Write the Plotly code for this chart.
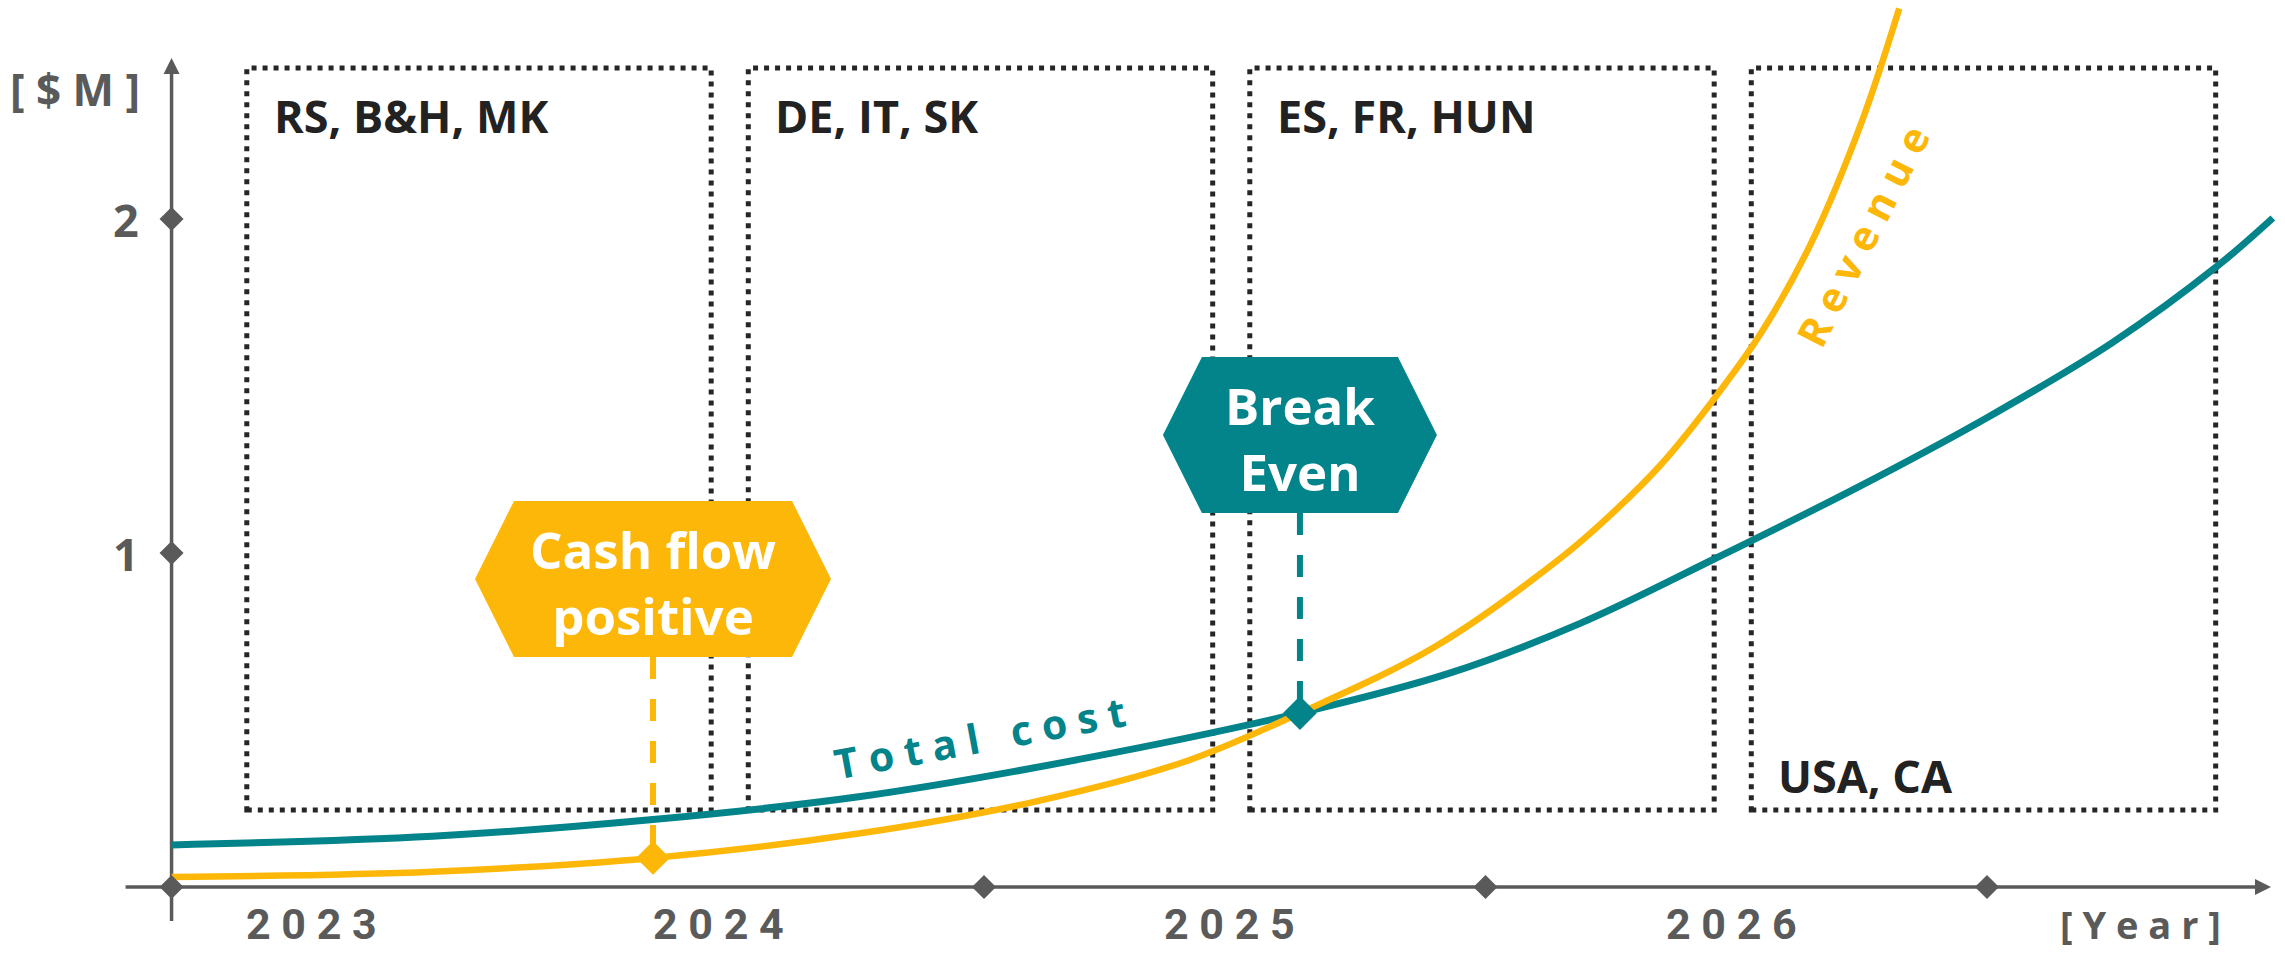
import plotly.graph_objects as go

# ---------------- data ----------------
cost_years = [2022.88, 2023.40, 2023.84, 2024.25, 2024.70, 2025.13, 2025.43,
              2025.69, 2025.96, 2026.24, 2026.50, 2026.75, 2026.96, 2027.07]
cost_values = [0.126, 0.152, 0.202, 0.270, 0.385, 0.521, 0.641,
               0.790, 0.985, 1.195, 1.405, 1.630, 1.860, 2.003]

revenue_years = [2022.88, 2023.40, 2023.84, 2024.25, 2024.60, 2024.90, 2025.13,
                 2025.40, 2025.65, 2025.75, 2025.85, 2025.95, 2026.05, 2026.15,
                 2026.25, 2026.325]
revenue_values = [0.030, 0.046, 0.087, 0.160, 0.255, 0.375, 0.521,
                  0.720, 0.985, 1.115, 1.265, 1.450, 1.660, 1.930,
                  2.290, 2.630]

milestone_labels = ["Cash flow<br>positive", "Break<br>Even"]
milestone_years = [2023.84, 2025.13]
milestone_values = [0.087, 0.521]

region_labels = ["RS, B&H, MK", "DE, IT, SK", "ES, FR, HUN", "USA, CA"]
region_years = [2023, 2024, 2025, 2026]

x_tick_labels = ["2023", "2024", "2025", "2026"]
x_tick_positions = [2023.16, 2023.97, 2024.99, 2025.99]
x_marker_positions = [2024.5, 2025.5, 2026.5]
y_tick_values = [1, 2]
y_tick_labels = ["1", "2"]
origin_year = 2022.88

series_labels = ["Total cost", "Revenue"]

# ---------------- styling / layout helpers ----------------
W, H = 2285, 953
PX_PER_YEAR = 501.5
PX_PER_M = 334.0
X_LEFT = 2022.5379          # data x at left edge
Y_ZERO_PX = 887             # pixel row of y = 0
X_RANGE = [X_LEFT, X_LEFT + W / PX_PER_YEAR]
Y_RANGE = [(Y_ZERO_PX - H) / PX_PER_M, Y_ZERO_PX / PX_PER_M]


def dx(p):
    return p / PX_PER_YEAR


def dy(p):
    return p / PX_PER_M


def px_x(p):
    return X_LEFT + p / PX_PER_YEAR


def px_y(p):
    return (Y_ZERO_PX - p) / PX_PER_M


TEAL = "#03838A"
YELLOW = "#FDB709"
GRAY = "#5A5A5A"
DOTS = "#262626"
DARK = "#222222"
FONT = "Open Sans"
NB = "\u00a0"


def spaced(s, gap=1, word_gap=3):
    out = []
    for i, ch in enumerate(s):
        if ch == " ":
            out.append(NB * word_gap)
        else:
            out.append(ch)
            if i < len(s) - 1 and s[i + 1] != " ":
                out.append(NB * gap)
    return "".join(out)


fig = go.Figure()
shapes = []
annotations = []

# ---- region boxes (dotted) ----
box_top = px_y(68)
box_bottom = px_y(810)
for i, (lab, yr) in enumerate(zip(region_labels, region_years)):
    x0 = yr + 0.03
    x1 = yr + 0.956
    shapes.append(dict(type="rect", xref="x", yref="y", x0=x0, x1=x1, y0=box_bottom, y1=box_top,
                       line=dict(color=DOTS, width=5, dash="5px,6px"), layer="below"))
    ly = px_y(115) if i < len(region_labels) - 1 else px_y(775)
    annotations.append(dict(x=x0 + dx(25), y=ly, xref="x", yref="y", text="<b>%s</b>" % lab,
                            showarrow=False, xanchor="left", yanchor="middle",
                            font=dict(family=FONT, size=45, color=DARK)))

# ---- axes ----
x_axis_start = origin_year - dx(46)
x_axis_tip = px_x(2271)
y_axis_bottom = px_y(921)
y_axis_tip = px_y(58)
shapes.append(dict(type="line", xref="x", yref="y", x0=x_axis_start, x1=x_axis_tip - dx(10),
                   y0=0, y1=0, line=dict(color=GRAY, width=3.5), layer="below"))
shapes.append(dict(type="line", xref="x", yref="y", x0=origin_year, x1=origin_year,
                   y0=y_axis_bottom, y1=y_axis_tip - dy(10), line=dict(color=GRAY, width=3.5), layer="below"))
# arrow heads
shapes.append(dict(type="path", xref="x", yref="y",
                   path="M %f,%f L %f,%f L %f,%f Z" % (x_axis_tip, 0, x_axis_tip - dx(16), dy(8),
                                                    x_axis_tip - dx(16), -dy(8)),
                   fillcolor=GRAY, line=dict(width=0), layer="below"))
shapes.append(dict(type="path", xref="x", yref="y",
                   path="M %f,%f L %f,%f L %f,%f Z" % (origin_year, y_axis_tip, origin_year - dx(8),
                                                    y_axis_tip - dy(16), origin_year + dx(8),
                                                    y_axis_tip - dy(16)),
                   fillcolor=GRAY, line=dict(width=0), layer="below"))

# ---- curves ----
fig.add_trace(go.Scatter(x=cost_years, y=cost_values, mode="lines", name=series_labels[0],
                         line=dict(color=TEAL, width=7, shape="spline", smoothing=1.0),
                         hoverinfo="skip"))
fig.add_trace(go.Scatter(x=revenue_years, y=revenue_values, mode="lines", name=series_labels[1],
                         line=dict(color=YELLOW, width=6.5, shape="spline", smoothing=1.0),
                         hoverinfo="skip"))

# ---- milestones ----
milestone_colors = [YELLOW, TEAL]
hex_half_w = [178, 137]
hex_center_px = [579, 435]
hex_half_h = 78
hex_inset = 39
for lab, mx, my, col, hw, cy in zip(milestone_labels, milestone_years, milestone_values,
                                    milestone_colors, hex_half_w, hex_center_px):
    yc = px_y(cy)
    yt = yc + dy(hex_half_h)
    yb = yc - dy(hex_half_h)
    xl = mx - dx(hw)
    xr = mx + dx(hw)
    path = "M %f,%f L %f,%f L %f,%f L %f,%f L %f,%f L %f,%f Z" % (
        xl, yc, xl + dx(hex_inset), yt, xr - dx(hex_inset), yt, xr, yc,
        xr - dx(hex_inset), yb, xl + dx(hex_inset), yb)
    shapes.append(dict(type="path", xref="x", yref="y", path=path, fillcolor=col,
                       line=dict(width=0), layer="above"))
    fig.add_trace(go.Scatter(x=[mx, mx], y=[yb, my], mode="lines",
                             line=dict(color=col, width=6, dash="22px,20px"), hoverinfo="skip"))
    annotations.append(dict(x=mx, y=yc + dy(-3), xref="x", yref="y", text="<b>%s</b>" % lab,
                            showarrow=False, xanchor="center", yanchor="middle",
                            font=dict(family=FONT, size=51, color="white")))

fig.add_trace(go.Scatter(x=milestone_years, y=milestone_values, mode="markers",
                         marker=dict(symbol="diamond", size=26, color=milestone_colors,
                                     line=dict(width=0)), hoverinfo="skip"))

# ---- axis diamonds ----
dia_x = [origin_year] + x_marker_positions + [origin_year] * len(y_tick_values)
dia_y = [0] * (1 + len(x_marker_positions)) + y_tick_values
fig.add_trace(go.Scatter(x=dia_x, y=dia_y, mode="markers",
                         marker=dict(symbol="diamond", size=18.5, color=GRAY, line=dict(width=0)),
                         hoverinfo="skip"))

# ---- axis labels ----
for lab, xp in zip(x_tick_labels, x_tick_positions):
    annotations.append(dict(x=xp, y=px_y(924), xref="x", yref="y", text="<b>%s</b>" % spaced(lab),
                            showarrow=False, xanchor="center", yanchor="middle",
                            font=dict(family="Roboto", size=43, color=GRAY)))
annotations.append(dict(x=px_x(2140), y=px_y(924), xref="x", yref="y",
                        text="<b>%s</b>" % spaced("[Year]"), showarrow=False,
                        xanchor="center", yanchor="middle",
                        font=dict(family=FONT, size=38, color=GRAY)))
for lab, v in zip(y_tick_labels, y_tick_values):
    annotations.append(dict(x=origin_year - dx(31), y=v, xref="x", yref="y", text="<b>%s</b>" % lab,
                            showarrow=False, xanchor="right", yanchor="middle",
                            font=dict(family=FONT, size=45, color=GRAY)))
annotations.append(dict(x=px_x(75), y=px_y(89), xref="x", yref="y",
                        text="<b>%s</b>" % spaced("[$M]"), showarrow=False,
                        xanchor="center", yanchor="middle",
                        font=dict(family=FONT, size=44, color=GRAY)))

# ---- series labels ----
annotations.append(dict(x=px_x(979), y=px_y(737), xref="x", yref="y",
                        text="<b>%s</b>" % spaced(series_labels[0]), showarrow=False,
                        textangle=-10.5, font=dict(family=FONT, size=41, color=TEAL)))
annotations.append(dict(x=px_x(1862), y=px_y(236), xref="x", yref="y",
                        text="<b>%s</b>" % spaced(series_labels[1]), showarrow=False,
                        textangle=-63, font=dict(family=FONT, size=41, color=YELLOW)))

fig.update_layout(
    width=W, height=H,
    margin=dict(l=0, r=0, t=0, b=0, pad=0),
    paper_bgcolor="white", plot_bgcolor="white",
    showlegend=False,
    xaxis=dict(range=X_RANGE, visible=False, fixedrange=True),
    yaxis=dict(range=Y_RANGE, visible=False, fixedrange=True),
    shapes=shapes,
    annotations=annotations,
)

fig.write_html("out.html", config={"displayModeBar": False},
               post_script="document.body.style.margin='0';document.body.style.overflow='hidden';")
